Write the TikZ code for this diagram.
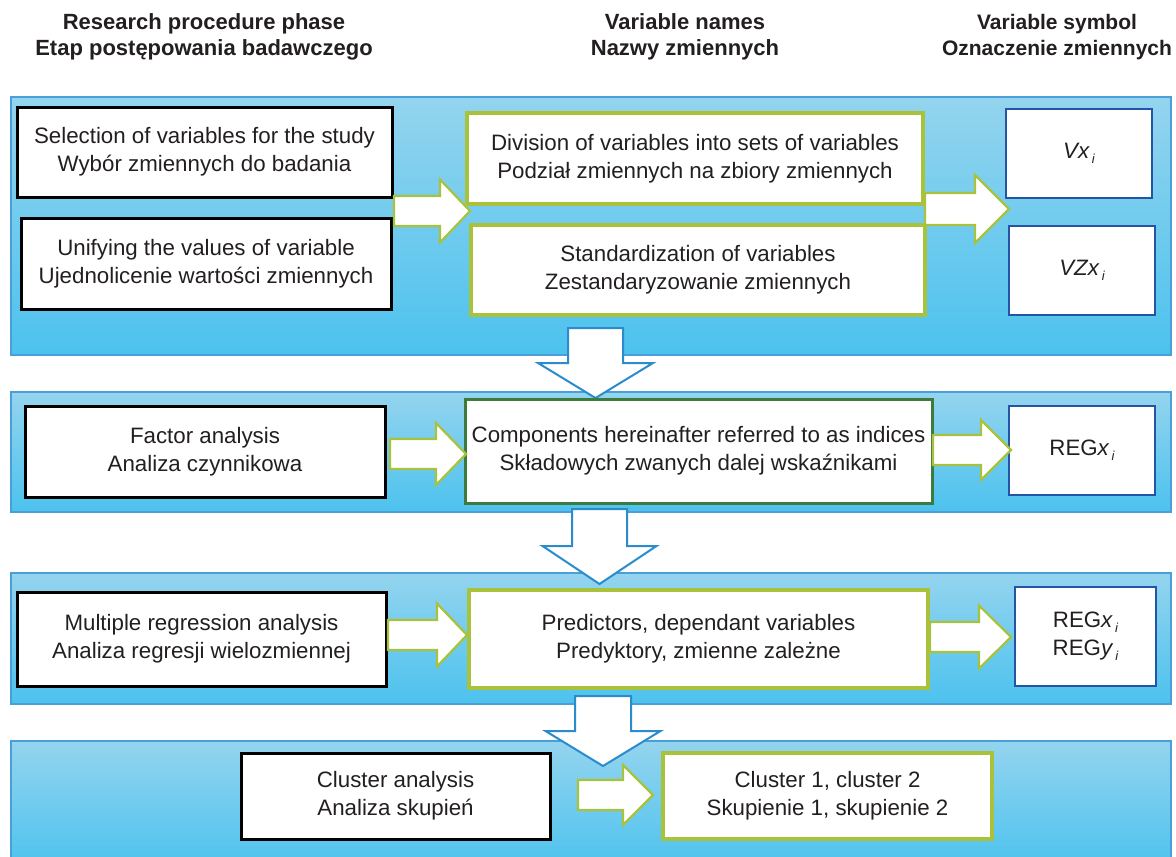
\documentclass[tikz,border=0pt]{standalone}
\usepackage{fontspec}
\setmainfont{Liberation Sans}
\definecolor{txt}{HTML}{231F20}
\definecolor{pantop}{RGB}{148,212,238}
\definecolor{panbot}{RGB}{76,194,238}
\definecolor{panline}{HTML}{4A9FD8}
\definecolor{lgreen}{HTML}{A8C23C}
\definecolor{dgreen}{HTML}{3C7B3C}
\definecolor{dblue}{HTML}{2455A4}
\definecolor{arrblue}{HTML}{2A8CCC}
\tikzset{
  panel/.style={draw=panline, line width=1.2pt, top color=pantop, bottom color=panbot},
  base/.style={rectangle, fill=white, text=txt, font=\fontsize{22.3}{28}\selectfont, align=center, inner sep=0pt},
  blackbox/.style={base, draw=black, line width=3pt},
  greenbox/.style={base, draw=lgreen, line width=3.5pt},
  dgreenbox/.style={base, draw=dgreen, line width=3pt},
  symbox/.style={base, draw=dblue, line width=2.5pt},
  rarrow/.style={draw=lgreen, fill=white, line width=2.2pt, line join=miter},
  darrow/.style={draw=arrblue, fill=white, line width=2pt, line join=miter},
  head/.style={font=\bfseries\fontsize{22}{26}\selectfont, text=txt, align=center, inner sep=0pt}
}
\newcommand\mybox[7]{\node[#6, minimum width={#4-#2}, minimum height={#5-#3}] (#1) at ({(#2+#4)/2},{(#3+#5)/2}) {#7};}
\newcommand\rarr[6]{\draw[rarrow] (#1,{#4-#5}) -- (#2,{#4-#5}) -- (#2,{#4-#6}) -- (#3,#4) -- (#2,{#4+#6}) -- (#2,{#4+#5}) -- (#1,{#4+#5}) -- cycle;}
\newcommand\darr[6]{\draw[darrow] ({#1-#2},#4) -- ({#1+#2},#4) -- ({#1+#2},#5) -- ({#1+#3},#5) -- (#1,#6) -- ({#1-#3},#5) -- ({#1-#2},#5) -- cycle;}
\newcommand\subi[1]{\raisebox{-0.45ex}{\fontsize{13}{13}\selectfont\itshape\,#1}}
\begin{document}
\begin{tikzpicture}[x=1pt,y=-1pt]
\clip (0,0) rectangle (1176,857);
\fill[white] (0,0) rectangle (1176,857);
% headers
\node[head] (h1) at (204,37) {Research procedure phase\\Etap postępowania badawczego};
\node[head] (h2) at (685,37) {Variable names\\Nazwy zmiennych};
\node[head, font=\bfseries\fontsize{21}{26}\selectfont] (h3) at (1057,37) {Variable symbol\\Oznaczenie zmiennych};
% panels
\path[panel] (11,97) rectangle (1171,355);
\path[panel] (11,392) rectangle (1171,512);
\path[panel] (11,573) rectangle (1171,704);
\path[panel] (11,741) rectangle (1171,870);
% down arrows
\darr{595.5}{27.5}{57.5}{328}{363}{398}
\darr{599.5}{27.5}{57}{509}{546}{584}
\darr{603}{28}{57.5}{696}{731}{766}
% boxes
\mybox{sel}{17}{107}{392}{197}{blackbox}{Selection of variables for the study\\Wybór zmiennych do badania}
\mybox{uni}{21}{218}{391}{309}{blackbox}{Unifying the values of variable\\Ujednolicenie wartości zmiennych}
\mybox{div}{467}{113}{923}{204}{greenbox}{Division of variables into sets of variables\\Podział zmiennych na zbiory zmiennych}
\mybox{std}{471}{225}{925}{315}{greenbox}{Standardization of variables\\Zestandaryzowanie zmiennych}
\mybox{vx}{1006}{109}{1152}{198}{symbox}{\textit{Vx}\subi{i}}
\mybox{vzx}{1009}{226}{1155}{315}{symbox}{\textit{VZx}\subi{i}}
\mybox{fac}{25}{406}{385}{497}{blackbox}{Factor analysis\\Analiza czynnikowa}
\mybox{comp}{465}{399}{932}{503}{dgreenbox}{Components hereinafter referred to as indices\\Składowych zwanych dalej wskaźnikami}
\mybox{regx}{1009}{406}{1155}{495}{symbox}{REG\textit{x}\subi{i}}
\mybox{mul}{17}{592}{386}{686}{blackbox}{Multiple regression analysis\\Analiza regresji wielozmiennej}
\mybox{pred}{469}{590}{928}{688}{greenbox}{Predictors, dependant variables\\Predyktory, zmienne zależne}
\mybox{regxy}{1015}{587}{1156}{686}{symbox}{REG\textit{x}\subi{i}\\REG\textit{y}\subi{i}}
\mybox{clu}{241}{753}{550}{839}{blackbox}{Cluster analysis\\Analiza skupień}
\mybox{cl12}{663}{753}{992}{839}{greenbox}{Cluster 1, cluster 2\\Skupienie 1, skupienie 2}
% right arrows
\rarr{394}{440}{470}{211}{15}{31.5}
\rarr{925}{975}{1009}{209}{16}{34}
\rarr{390}{436}{466}{454}{15}{31}
\rarr{933}{981}{1011}{450}{15}{30}
\rarr{388}{437}{467}{635}{15}{31.5}
\rarr{930}{979}{1011}{637}{15}{31.5}
\rarr{578}{623}{653}{795}{15}{30}
\end{tikzpicture}
\end{document}
